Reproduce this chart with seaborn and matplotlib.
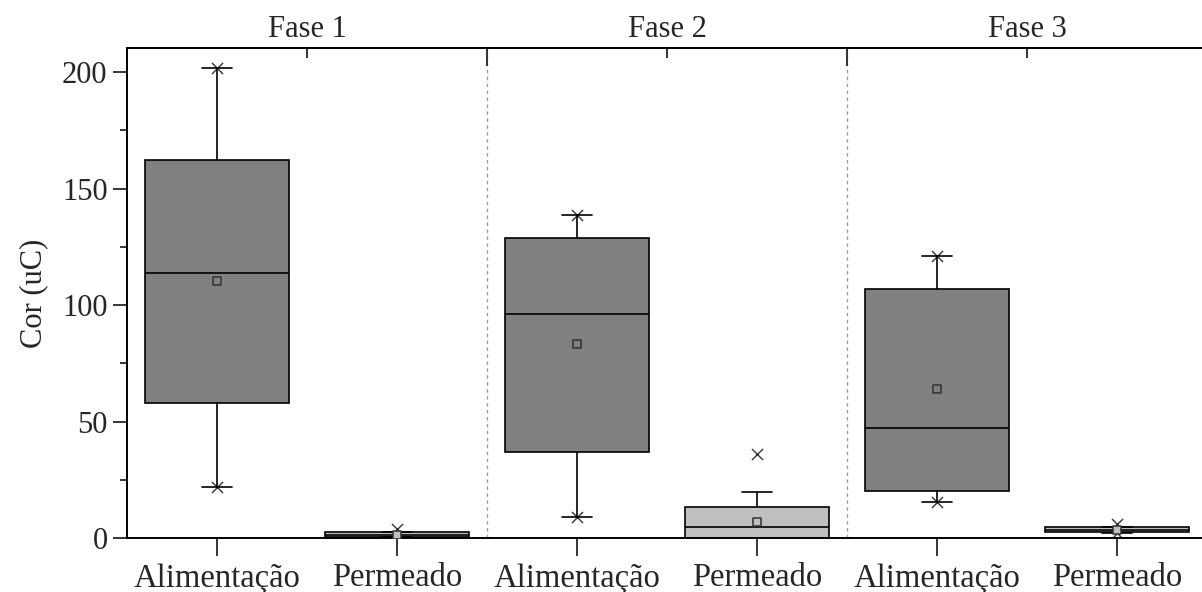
import numpy as np
import pandas as pd
import matplotlib
matplotlib.use("Agg")
import matplotlib.pyplot as plt
from matplotlib.ticker import MultipleLocator
import seaborn as sns

# Sample groups (phase / stream) and their axis labels
groups = ["F1-A", "F1-P", "F2-A", "F2-P", "F3-A", "F3-P"]
tick_labels = ["Alimentação", "Permeado", "Alimentação", "Permeado", "Alimentação", "Permeado"]
phases = ["Fase 1", "Fase 2", "Fase 3"]

# Box statistics for colour (uC)
whisker_low = [21.9, 0.3, 9.0, 0.0, 15.5, 2.2]
q1 = [57.9, 0.6, 36.9, 0.0, 20.2, 2.4]
median = [113.7, 1.5, 96.1, 4.7, 47.2, 3.4]
q3 = [162.2, 2.4, 128.8, 13.2, 106.9, 4.6]
whisker_high = [202.0, 2.6, 138.6, 19.9, 121.0, 4.8]
means = [110.3, 1.2, 83.3, 6.7, 63.9, 3.6]
minimum = [21.9, 0.3, 9.0, 0.0, 15.5, 2.2]
maximum = [202.0, 3.8, 138.6, 36.1, 121.0, 5.8]

fills = ["#808080", "#c0c0c0", "#808080", "#c0c0c0", "#808080", "#c0c0c0"]

# five values per group reproduce whiskers, quartiles and median exactly
rows = []
for g, a, b, c, d, e in zip(groups, whisker_low, q1, median, q3, whisker_high):
    for v in (a, b, c, d, e):
        rows.append({"group": g, "value": v})
df = pd.DataFrame(rows)

sns.set_theme(style="ticks")
plt.rcParams["font.family"] = ["Liberation Serif", "DejaVu Serif"]
plt.rcParams.update({"font.size": 22, "xtick.labelsize": 23.5,
                     "ytick.labelsize": 22, "axes.labelsize": 22})

W, H = 1202, 592
fig = plt.figure(figsize=(W / 100, H / 100), dpi=100)
ax = fig.add_axes([127 / W, 1 - 538 / H, (1201 - 127) / W, (538 - 48) / H])

sns.boxplot(data=df, x="group", y="value", hue="group", order=groups,
            hue_order=groups, palette=fills, saturation=1, whis=(0, 100),
            width=0.8, linecolor="black", linewidth=1.2, showfliers=False,
            legend=False, capwidths=0.17, ax=ax)

# min / max markers
ext = pd.DataFrame({"group": groups * 2, "value": minimum + maximum})
sns.stripplot(data=ext, x="group", y="value", order=groups, jitter=False,
              marker="x", size=8, color="#333333", linewidth=1.0,
              zorder=1.5, ax=ax)

# means
mdf = pd.DataFrame({"group": groups, "value": means})
sns.stripplot(data=mdf, x="group", y="value", order=groups, hue="group",
              hue_order=groups, palette=fills, jitter=False, marker="s",
              size=6, linewidth=1.1, edgecolor="#333333", legend=False,
              zorder=4, ax=ax)

for xs in (1.5, 3.5):
    ax.axvline(xs, color="#9a9a9a", lw=1.0, ls=(0, (2.5, 2.5)), zorder=0)

ax.set_xlim(-0.5, 5.467)
ax.set_ylim(0, 210.4)
ax.set_xticks(range(len(groups)))
ax.set_xticklabels(tick_labels)
ax.set_xlabel("")
ax.set_ylabel("Cor (uC)", labelpad=10)
ax.yaxis.set_major_locator(MultipleLocator(50))
ax.yaxis.set_minor_locator(MultipleLocator(25))
ax.tick_params(axis="y", which="major", direction="out", length=10, width=1.3, pad=4)
ax.tick_params(axis="y", which="minor", direction="out", length=5, width=1.3)
ax.tick_params(axis="x", which="major", direction="out", length=13, width=1.3, pad=5)

for side in ("left", "bottom", "top"):
    ax.spines[side].set_linewidth(1.4)
    ax.spines[side].set_color("black")
ax.spines["right"].set_visible(False)

top = ax.secondary_xaxis("top")
top.set_xticks([0.5, 2.5, 4.5], labels=phases)
top.set_xticks([1.5, 3.5], minor=True)
top.tick_params(which="major", direction="in", length=7, width=1.3, pad=3,
                labelsize=22)
top.tick_params(which="minor", direction="in", length=13, width=1.3)
top.spines["top"].set_linewidth(1.4)

fig.savefig("out.png", dpi=100)
